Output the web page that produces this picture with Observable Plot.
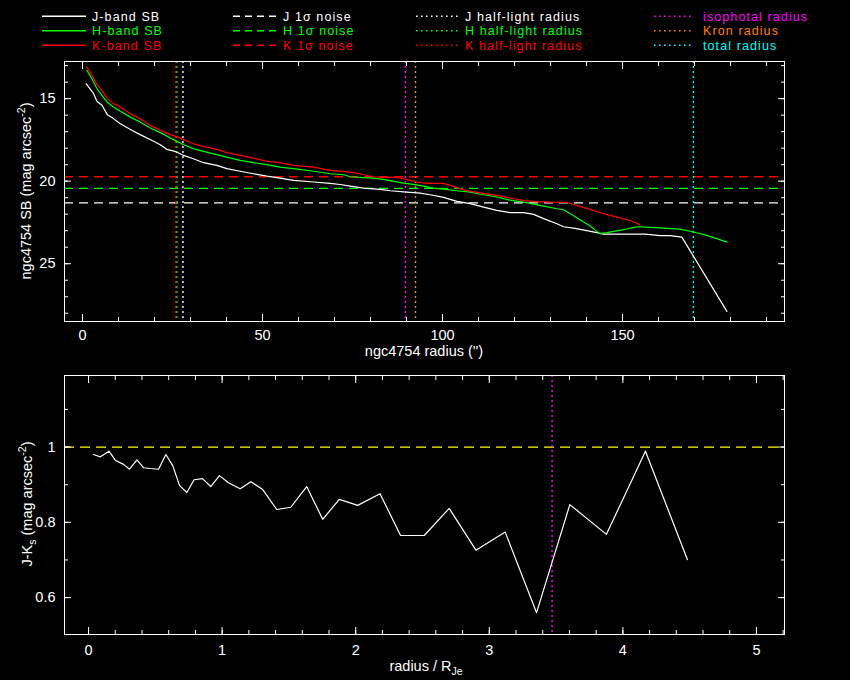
<!DOCTYPE html>
<html><head><meta charset="utf-8">
<script src="https://cdn.jsdelivr.net/npm/d3@7"></script>
<script src="https://cdn.jsdelivr.net/npm/@observablehq/plot@0.6"></script>
<style>
html,body{margin:0;padding:0;background:#000;}
#wrap{position:relative;width:850px;height:680px;background:#000;overflow:hidden;font-family:"Liberation Sans",Arial,sans-serif;}
#legend{position:absolute;left:0;top:0;}
#p1{position:absolute;left:0;top:60px;}
#p2{position:absolute;left:0;top:360px;}
svg{display:block}
</style></head><body>
<div id="wrap"><div id="legend"></div><div id="p1"></div><div id="p2"></div></div>
<script>
// ---------- data ----------
const jRadius = [1.0,3.1,4.0,5.4,6.9,8.6,10.5,13.7,16.0,18.8,21.6,23.4,25.7,28.1,30.8,33.6,37.3,40.1,43.8,47.5,51.2,54.9,58.6,64.2,68.8,71.6,74.4,78.1,82.7,85.5,90.1,93.8,96.6,100.3,104.0,107.7,111.4,115.1,118.8,122.5,125.3,128.1,131.8,133.6,136.4,140.1,142.9,144.7,148.4,152.1,156.3,160.5,163.3,166.5,179.0];
const jSB     = [14.09,14.70,15.16,15.40,15.97,16.21,16.52,16.92,17.18,17.47,17.79,18.07,18.19,18.44,18.64,18.88,19.04,19.24,19.40,19.55,19.69,19.81,19.95,20.05,20.13,20.20,20.30,20.42,20.50,20.58,20.66,20.72,20.82,20.98,21.22,21.36,21.57,21.77,21.91,21.91,22.01,22.27,22.58,22.76,22.84,23.00,23.12,23.21,23.21,23.21,23.21,23.30,23.30,23.39,27.89];

const hRadius = [1.2,2.6,4.0,5.4,6.8,8.6,10.5,13.3,16.0,18.8,21.6,24.4,25.7,28.1,30.8,33.6,37.3,40.1,43.8,47.5,51.2,54.9,58.6,64.2,68.8,72.5,74.4,78.1,80.8,83.6,86.4,89.2,91.9,94.7,97.5,100.3,104.0,107.7,111.4,115.1,118.8,122.5,125.3,128.1,131.8,133.6,135.5,138.2,141.0,142.9,143.8,145.7,147.5,150.3,153.1,154.9,157.7,161.4,166.0,169.7,173.4,176.2,179.0];
const hSB     = [13.28,13.79,14.39,14.80,15.20,15.51,15.77,16.12,16.42,16.78,17.06,17.39,17.53,17.79,18.03,18.19,18.39,18.54,18.74,18.88,19.00,19.15,19.24,19.40,19.55,19.61,19.73,19.79,19.81,19.89,20.01,20.12,20.19,20.30,20.42,20.48,20.58,20.66,20.82,20.96,21.15,21.27,21.39,21.51,21.67,21.73,21.97,22.33,22.72,23.04,23.18,23.12,23.04,22.94,22.80,22.76,22.80,22.84,22.90,23.08,23.28,23.48,23.69];

const kRadius = [1.2,2.6,4.0,5.4,6.9,8.6,10.5,13.3,16.0,18.8,21.6,24.4,25.7,28.1,30.8,33.6,37.3,40.1,43.8,47.5,51.2,54.9,58.6,64.2,68.8,72.5,75.3,78.1,80.8,83.6,87.3,90.1,92.9,95.7,100.3,102.1,104.9,107.7,111.4,115.1,118.8,122.5,126.2,129.9,134.6,137.3,141.0,144.7,148.4,152.1,154.9];
const kSB     = [13.08,13.59,14.15,14.50,15.00,15.30,15.51,15.91,16.21,16.62,16.92,17.18,17.27,17.48,17.73,17.89,18.07,18.27,18.44,18.60,18.80,18.88,19.04,19.15,19.35,19.41,19.48,19.61,19.73,19.77,19.77,19.91,20.05,20.13,20.13,20.25,20.45,20.62,20.74,20.86,21.02,21.18,21.24,21.27,21.28,21.47,21.71,21.97,22.18,22.38,22.64];

const noiseBands  = ["J","H","K"];
const noiseLevels = [21.31, 20.44, 19.73];
const halfLightRadii = [27.9, 26.2, 25.9];           // J, H, K
const otherRadiusNames  = ["isophotal","Kron","total"];
const otherRadiusValues = [89.7, 92.5, 169.7];

const colorRadius = [0.037,0.088,0.153,0.200,0.262,0.307,0.362,0.411,0.461,0.524,0.579,0.631,0.681,0.736,0.790,0.853,0.915,0.980,1.047,1.135,1.215,1.304,1.409,1.514,1.633,1.753,1.877,2.015,2.182,2.336,2.513,2.700,2.900,3.119,3.354,3.603,3.877,4.169,4.483];
const colorJK     = [0.980,0.974,0.989,0.965,0.954,0.941,0.966,0.945,0.943,0.941,0.980,0.950,0.898,0.879,0.913,0.916,0.895,0.924,0.905,0.889,0.908,0.887,0.834,0.840,0.895,0.808,0.861,0.845,0.876,0.765,0.765,0.837,0.726,0.774,0.560,0.847,0.768,0.989,0.701];
const colorRefLevel = [1];
const isophotalScaled = [3.47];

const topXMajor = [0,50,100,150];
const topXMinor = [0,10,20,30,40,50,60,70,80,90,100,110,120,130,140,150,160,170,180,190];
const topYMajor = [15,20,25];
const topYMinor = [13,14,15,16,17,18,19,20,21,22,23,24,25,26,27,28];
const botXMajor = [0,1,2,3,4,5];
const botXMinor = [0,0.2,0.4,0.6,0.8,1,1.2,1.4,1.6,1.8,2,2.2,2.4,2.6,2.8,3,3.2,3.4,3.6,3.8,4,4.2,4.4,4.6,4.8,5,5.2];
const botYMajor = [0.6,0.8,1];
const botYMinor = [0.6,0.7,0.8,0.9,1,1.1];

const C = {J:"#ffffff", H:"#00ff00", K:"#ff0000", iso:"#ff00ff", kron:"#ff8000", total:"#00ffff", ref:"#ffff00"};
const FONT = '"Liberation Sans", Arial, sans-serif';
const FS = 14.5;
const DASH = "9,6", DOT = "2,3";

const zip = (xs, ys) => xs.map((x, i) => ({x, y: ys[i]}));

function frameAxes(xMaj, xMin, yMaj, yMin, fmtX, fmtY, padX, padY) {
  const none = () => "";
  return [
    Plot.axisX(xMaj, {anchor:"bottom", tickSize:-7, tickPadding:padX, tickFormat:fmtX, label:null, stroke:"white", fill:"white"}),
    Plot.axisX(xMin, {anchor:"bottom", tickSize:-4, tickFormat:none, label:null, stroke:"white"}),
    Plot.axisX(xMaj, {anchor:"top", tickSize:-7, tickFormat:none, label:null, stroke:"white"}),
    Plot.axisX(xMin, {anchor:"top", tickSize:-4, tickFormat:none, label:null, stroke:"white"}),
    Plot.axisY(yMaj, {anchor:"left", tickSize:-7, tickPadding:padY, tickFormat:fmtY, label:null, stroke:"white", fill:"white"}),
    Plot.axisY(yMin, {anchor:"left", tickSize:-4, tickFormat:none, label:null, stroke:"white"}),
    Plot.axisY(yMaj, {anchor:"right", tickSize:-7, tickFormat:none, label:null, stroke:"white"}),
    Plot.axisY(yMin, {anchor:"right", tickSize:-4, tickFormat:none, label:null, stroke:"white"})
  ];
}

// ---------- top panel ----------
const p1 = Plot.plot({
  width: 850, height: 300,
  marginLeft: 64, marginRight: 66, marginTop: 1, marginBottom: 39,
  style: {background:"black", color:"white", fontFamily: FONT, fontSize: FS + "px"},
  x: {domain: [-5, 195]},
  y: {domain: [12.75, 28.5], reverse: true},
  marks: [
    Plot.ruleY(noiseLevels, {y: d => d, stroke: (d, i) => [C.J, C.H, C.K][i], strokeDasharray: DASH, strokeWidth: 1.3}),
    Plot.ruleX(halfLightRadii, {x: d => d, stroke: (d, i) => [C.J, C.H, C.K][i], strokeDasharray: DOT, strokeWidth: 1.4}),
    Plot.ruleX(otherRadiusValues, {x: d => d, stroke: (d, i) => [C.iso, C.kron, C.total][i], strokeDasharray: DOT, strokeWidth: 1.4}),
    Plot.line(zip(jRadius, jSB), {x:"x", y:"y", stroke: C.J, strokeWidth: 1.2}),
    Plot.line(zip(hRadius, hSB), {x:"x", y:"y", stroke: C.H, strokeWidth: 1.2}),
    Plot.line(zip(kRadius, kSB), {x:"x", y:"y", stroke: C.K, strokeWidth: 1.2}),
    Plot.frame({stroke: "white"}),
    ...frameAxes(topXMajor, topXMinor, topYMajor, topYMinor, d => String(d), d => String(d), 15, 16)
  ]
});
document.getElementById("p1").appendChild(p1);

// ---------- bottom panel ----------
const p2 = Plot.plot({
  width: 850, height: 320,
  marginLeft: 64, marginRight: 66, marginTop: 15, marginBottom: 46,
  style: {background:"black", color:"white", fontFamily: FONT, fontSize: FS + "px"},
  x: {domain: [-0.18, 5.21]},
  y: {domain: [0.502, 1.19]},
  marks: [
    Plot.ruleY(colorRefLevel, {y: d => d, stroke: C.ref, strokeDasharray: "10,6", strokeWidth: 1.3}),
    Plot.ruleX(isophotalScaled, {x: d => d, stroke: C.iso, strokeDasharray: DOT, strokeWidth: 1.4}),
    Plot.line(zip(colorRadius, colorJK), {x:"x", y:"y", stroke: "white", strokeWidth: 1.2}),
    Plot.frame({stroke: "white"}),
    ...frameAxes(botXMajor, botXMinor, botYMajor, botYMinor, d => String(d), d => (d === 1 ? "1" : d.toFixed(1)), 17, 16)
  ]
});
document.getElementById("p2").appendChild(p2);

// ---------- axis titles (with sub/superscripts) ----------
function addText(svg, x, y, parts, rotate) {
  const t = d3.select(svg).append("text")
    .attr("transform", `translate(${x},${y})` + (rotate ? " rotate(-90)" : ""))
    .attr("text-anchor", "middle").attr("fill", "white")
    .attr("font-family", FONT).attr("font-size", FS);
  parts.forEach(p => {
    const s = t.append("tspan").text(p.t);
    if (p.dy) s.attr("dy", p.dy);
    if (p.fs) s.attr("font-size", p.fs);
  });
}
addText(p1, 424, 296, [{t:"ngc4754 radius ('')"}]);
addText(p1, 31, 131, [{t:"ngc4754 SB (mag arcsec"}, {t:"-2", dy:-6, fs:10.5}, {t:")", dy:6}], true);
addText(p2, 426, 311, [{t:"radius / R"}, {t:"Je", dy:4, fs:10.5}]);
addText(p2, 32, 144, [{t:"J-K"}, {t:"s", dy:4, fs:10.5}, {t:" (mag arcsec", dy:-4}, {t:"-2", dy:-6, fs:10.5}, {t:")", dy:6}], true);

// ---------- legend ----------
const legendRows = [16.2, 30.7, 45.2];
const LFS = 12.5;
const legendCols = [
  {x0:42,  x1:86,  tx:92,  dash:null,       labels:["J-band SB","H-band SB","K-band SB"], colors:[C.J,C.H,C.K]},
  {x0:233, x1:276, tx:283, dash:"7,5",      labels:["J 1σ noise","H 1σ noise","K 1σ noise"], colors:[C.J,C.H,C.K]},
  {x0:416, x1:458, tx:465, dash:"1.6,3.4",  labels:["J half-light radius","H half-light radius","K half-light radius"], colors:[C.J,C.H,C.K]},
  {x0:654, x1:694, tx:703, dash:"1.6,3.4",  labels:["isophotal radius","Kron radius","total radius"], colors:[C.iso,C.kron,C.total]}
];
const lg = d3.select("#legend").append("svg").attr("width", 850).attr("height", 60)
  .style("background", "black");
legendCols.forEach(col => {
  col.labels.forEach((lab, i) => {
    const y = legendRows[i];
    const ln = lg.append("line").attr("x1", col.x0).attr("x2", col.x1)
      .attr("y1", y).attr("y2", y).attr("stroke", col.colors[i]).attr("stroke-width", 1.5);
    if (col.dash) ln.attr("stroke-dasharray", col.dash);
    lg.append("text").attr("x", col.tx).attr("y", y + 4.5)
      .attr("fill", col.colors[i]).attr("font-family", FONT).attr("font-size", LFS)
      .attr("letter-spacing", 1.1).text(lab);
  });
});
</script></body></html>
